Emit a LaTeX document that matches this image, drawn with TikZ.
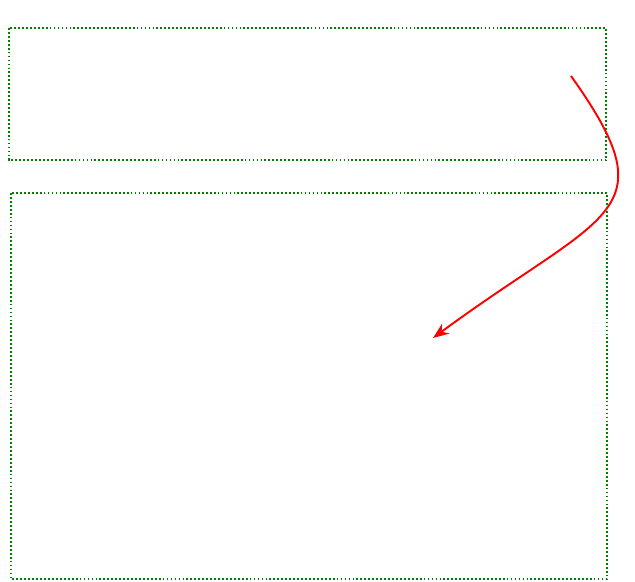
\documentclass[tikz,border=0pt]{standalone}
\usepackage{tikz}
\usetikzlibrary{arrows.meta}

\definecolor{box_green}{RGB}{0, 128, 0}
\definecolor{flow_red}{RGB}{255, 0, 0}

\begin{document}
\begin{tikzpicture}[
        region/.style={draw=box_green, line width=1pt,
                       dash pattern=on 1pt off 1.25pt},
        flow/.style={-{Stealth[length=9pt, width=7pt]}, line width=1.1pt, flow_red},
      ]
        \useasboundingbox (0, 0) rectangle (12.7, 11.64);

        % the two regions
        \draw[region] (0.18, 11.08) rectangle (12.12, 8.44);
        \draw[region] (0.22, 7.78) rectangle (12.14, 0.06);

        \coordinate (src) at (11.42, 10.12);
        \coordinate (dst) at (8.66, 4.88);

        \draw[flow] (src) .. controls (13.4, 7.34) and (12.14, 7.44) .. (dst);
      \end{tikzpicture}
\end{document}
